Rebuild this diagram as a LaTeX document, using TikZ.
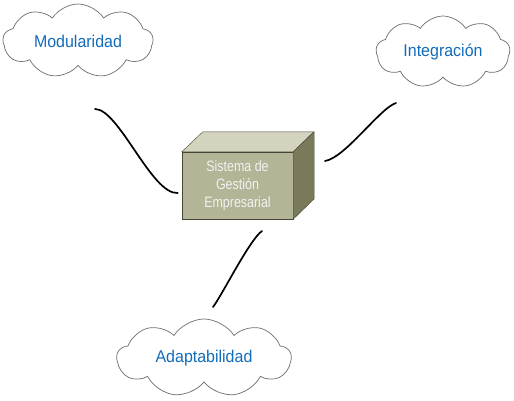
\documentclass[tikz,border=0pt]{standalone}
\usepackage{fontspec}
\setmainfont{Liberation Sans}
\newfontfamily\cloudfont{Liberation Sans}[FakeStretch=0.94]
\newfontfamily\boxfont{Liberation Sans}[FakeStretch=0.83]
\usepackage{tikz}
\usetikzlibrary{shapes.symbols}

\definecolor{idea}{RGB}{18,108,188}
\definecolor{facefront}{RGB}{180,180,151}
\definecolor{facetop}{RGB}{212,212,190}
\definecolor{faceside}{RGB}{122,122,90}
\definecolor{edge}{RGB}{70,70,55}

\begin{document}
\begin{tikzpicture}[x=1pt, y=1pt,
    idea/.style={draw=gray!85!black, line width=0.7pt, fill=white, cloud, cloud puffs=9, cloud puff arc=115, cloud ignores aspect, inner sep=0pt, text=idea, font=\cloudfont\fontsize{17}{20}\selectfont},
    link/.style={line width=1.7pt, line cap=round}]
      \useasboundingbox (0,0) rectangle (514,400);

      \node[idea, minimum width=150, minimum height=74]  (M)  at ( 78, 359)    {Modularidad};
      \node[idea, minimum width=134, minimum height=72]  (I)  at (443, 348)    {Integración};
      \node[idea, minimum width=174, minimum height=78]  (A)  at (204,  42)    {Adaptabilidad};

      \node[draw=edge, fill=facefront, minimum width=111, minimum height=67, inner sep=0pt, align=center, text=white!95!black, font=\boxfont\fontsize{15}{18}\selectfont]  (S)  at (237.5, 214.5)    {Sistema de \\ Gestión \\ Empresarial};

      \filldraw[draw=edge, fill=facetop]  (S.north west) -- ++(21,20) -- ++(111,0) -- (S.north east) -- cycle;
      \filldraw[draw=edge, fill=faceside] (S.north east) -- ++(21,20) -- ++(0,-67) -- (S.south east) -- cycle;

      \coordinate (M-end) at ( 95, 291);
      \coordinate (S-w)   at ([shift={(-4,-7.5)}]S.west);
      \coordinate (S-e)   at (325, 239);
      \coordinate (I-end) at (396, 297);
      \coordinate (S-s)   at (262, 169);
      \coordinate (A-end) at (213,  93);

      \draw[link]  (M-end) .. controls +(24,0) and +(-26,-2) .. (S-w);
      \draw[link]  (S-e)   .. controls +(20,3) and +(-16,-5) .. (I-end);
      \draw[link]  (S-s)   .. controls +(-12,-8) and +(8,10) .. (A-end);
    \end{tikzpicture}
\end{document}
